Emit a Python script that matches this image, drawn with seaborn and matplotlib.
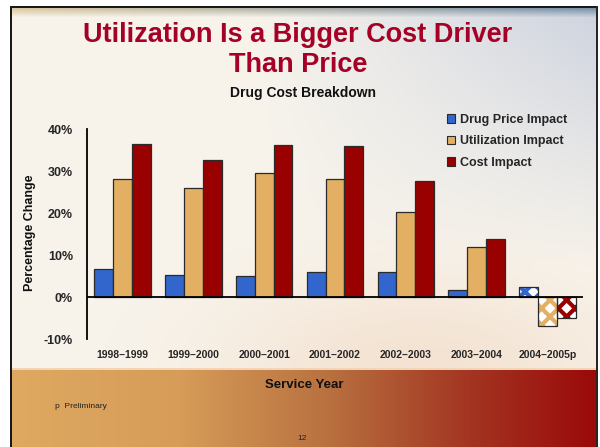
import numpy as np
import pandas as pd
import matplotlib
matplotlib.use("Agg")
import matplotlib.pyplot as plt
from matplotlib.patches import Rectangle
from matplotlib.colors import to_rgb
import seaborn as sns

# data (percent change)
years = ["1998–1999", "1999–2000", "2000–2001", "2001–2002",
         "2002–2003", "2003–2004", "2004–2005p"]
price_impact = [6.7, 5.2, 5.0, 6.0, 6.0, 1.6, 2.5]
util_impact = [28.0, 26.0, 29.6, 28.0, 20.2, 11.8, -7.0]
cost_impact = [36.5, 32.6, 36.1, 36.0, 27.6, 13.8, -4.9]
series = ["Drug Price Impact", "Utilization Impact", "Cost Impact"]
colors = ["#3366CC", "#E3AF62", "#990000"]

df = pd.DataFrame({
    "year": years * 3,
    "series": np.repeat(series, len(years)),
    "value": price_impact + util_impact + cost_impact,
})

sns.set_theme(style="white")
plt.rcParams["font.family"] = ["Liberation Sans", "DejaVu Sans"]
plt.rcParams["hatch.linewidth"] = 3.0

W, H = 600, 447
fig = plt.figure(figsize=(6, 4.47), dpi=100)

# --- slide background ---
yy, xx = np.mgrid[0:H, 0:W].astype(float)
cream = np.array(to_rgb("#F8F4EC"))
bluegray = np.array(to_rgb("#CDD3DF"))
peach = np.array(to_rgb("#F3DFCC"))
img = np.ones((H, W, 3)) * cream
w1 = np.clip((xx - 250) / 350, 0, 1) * np.clip(1 - (yy - 10) / 260, 0, 1)
img = img * (1 - w1[..., None]) + bluegray * w1[..., None]
w2 = np.exp(-(((xx - 420) / 200) ** 2 + ((yy - 365) / 90) ** 2)) * 0.8
img = img * (1 - w2[..., None]) + peach * w2[..., None]

# top strip
strip = (yy >= 8) & (yy < 17)
tstrip = np.clip(xx / W, 0, 1)
sc = (np.array(to_rgb("#D9C597"))[None, None, :] * (1 - tstrip[..., None])
      + np.array(to_rgb("#6F8AA6"))[None, None, :] * tstrip[..., None])
fade = np.clip(1 - (yy - 8) / 9, 0, 1)[..., None] * 0.9
img = np.where(strip[..., None], img * (1 - fade) + sc * fade, img)

# bottom band
stops_x = [0, 0.3, 0.55, 0.78, 1.0]
stops_c = [to_rgb(c) for c in ["#DFAA62", "#D69C58", "#B8703F", "#A33522", "#9A0808"]]
band_cols = np.stack([np.interp(xx[0] / W, stops_x, [c[i] for c in stops_c])
                      for i in range(3)], axis=-1)
band = yy >= 369
img = np.where(band[..., None], band_cols[None, :, :], img)
img[368:370, :, :] = np.array(to_rgb("#F2D4B8"))

# borders
img[:6, :, :] = 1.0
img[:, :10, :] = 1.0
img[:, 598:, :] = 1.0
img[6:8, 10:598, :] = 0.1
img[6:, 10:12, :] = 0.1
img[6:, 596:598, :] = 0.15

bg = fig.add_axes([0, 0, 1, 1], zorder=-10)
bg.imshow(img, aspect="auto", extent=(0, W, H, 0))
bg.set_axis_off()

# --- chart ---
ax = fig.add_axes([87 / W, 1 - 339 / H, (583 - 87) / W, (339 - 129) / H])
ax.set_facecolor("none")
sns.barplot(data=df, x="year", y="value", hue="series", palette=colors,
            order=years, hue_order=series, width=0.8, saturation=1,
            edgecolor="#2a2a2a", linewidth=0.9, ax=ax)

# preliminary year drawn with a pattern
for cont, col in zip(ax.containers, colors):
    bar = cont[len(years) - 1]
    bar.set_facecolor("white")
    bar.set_edgecolor(col)
    bar.set_hatch("xx")
    bar.set_linewidth(0)
    ax.add_patch(Rectangle(bar.get_xy(), bar.get_width(), bar.get_height(),
                           fill=False, edgecolor="#2a2a2a", linewidth=0.9,
                           zorder=bar.get_zorder() + 0.1))

ax.axhline(0, color="black", linewidth=1.3, zorder=5)
ax.set_xlim(-0.5, 6.5)
ax.set_ylim(-10, 40)
ax.set_yticks([-10, 0, 10, 20, 30, 40])
ax.set_yticklabels([f"{v}%" for v in [-10, 0, 10, 20, 30, 40]],
                   fontsize=9, fontweight="bold")
ax.tick_params(axis="y", length=0, pad=10)
ax.tick_params(axis="x", length=0, pad=8, labelsize=7.5)
for lab in ax.get_xticklabels():
    lab.set_fontweight("bold")
for s in ["top", "right", "bottom"]:
    ax.spines[s].set_visible(False)
ax.spines["left"].set_color("black")
ax.spines["left"].set_linewidth(1.3)
ax.set_xlabel("")
ax.set_ylabel("")

leg = ax.legend(loc="upper left", bbox_to_anchor=(447 / W, 1 - 114 / H),
                bbox_transform=fig.transFigure, frameon=False,
                handlelength=0.65, handleheight=0.65, handletextpad=0.4,
                labelspacing=0.75, borderaxespad=0, borderpad=0,
                prop={"size": 9, "weight": "bold"})
for h in leg.legend_handles:
    h.set_linewidth(0.8)
    h.set_edgecolor("#2a2a2a")

# --- slide text ---
fig.text(298 / W, 1 - 50 / H, "Utilization Is a Bigger Cost Driver\nThan Price",
         ha="center", va="center", fontsize=19.5, fontweight="bold",
         color="#A50026", linespacing=1.15)
fig.text(303 / W, 1 - 93 / H, "Drug Cost Breakdown", ha="center", va="center",
         fontsize=10, fontweight="bold", color="#111111")
fig.text(30.5 / W, 1 - 233 / H, "Percentage Change", ha="center", va="center",
         rotation=90, fontsize=9, fontweight="bold", color="#111111")
fig.text(304 / W, 1 - 385 / H, "Service Year", ha="center", va="center",
         fontsize=9.5, fontweight="bold", color="#111111")
fig.text(55 / W, 1 - 407 / H, "p  Preliminary", ha="left", va="center",
         fontsize=6, color="#222222")
fig.text(302 / W, 1 - 438 / H, "12", ha="center", va="center",
         fontsize=6, color="#222222")

fig.savefig("out.png", dpi=100)
